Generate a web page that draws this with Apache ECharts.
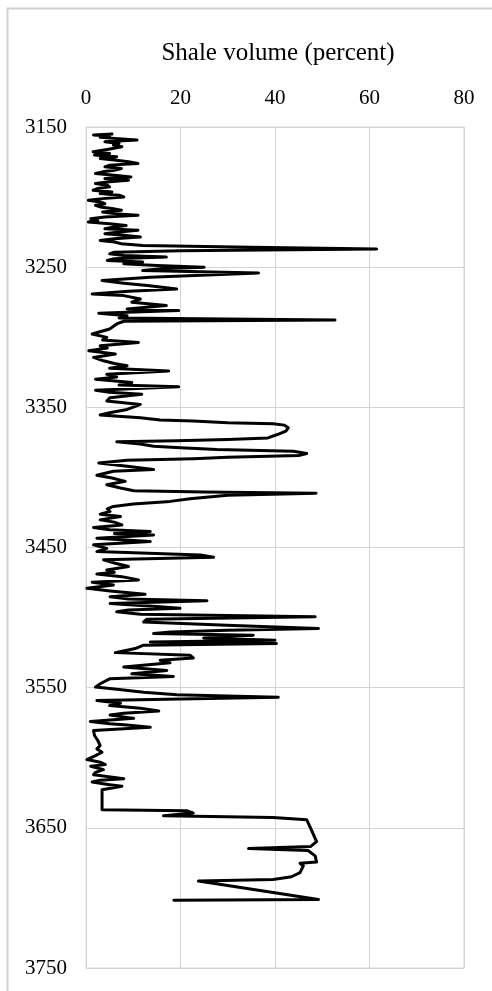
<!DOCTYPE html>
<html>
<head>
<meta charset="utf-8">
<script src="https://cdn.jsdelivr.net/npm/echarts@6/dist/echarts.min.js"></script>
<style>
html,body{margin:0;padding:0;background:#fff;}
#chart{width:492px;height:991px;}
</style>
</head>
<body>
<div id="chart"></div>
<script>
// Depth (m) of each log sample
var depth = [
3155.0,3155.7,3156.4,3157.4,3159.3,3160.5,3161.7,3162.9,3164.1,3166.0,3167.7,3168.9,3170.0,3171.2,3172.4,3173.6,3174.8,3176.0,3177.2,3178.4,
3179.6,3180.8,3182.0,3183.2,3184.4,3185.6,3186.8,3188.0,3189.1,3190.3,3191.5,3192.7,3193.9,3195.1,3196.3,3197.5,3198.7,3199.9,3201.1,3202.3,
3203.5,3204.7,3205.8,3207.0,3208.2,3209.4,3210.6,3211.8,3213.0,3214.2,3215.4,3216.6,3217.8,3219.0,3220.2,3221.4,3222.6,3223.7,3224.9,3226.1,
3227.3,3228.5,3229.7,3230.9,3232.1,3233.3,3234.5,3235.8,3237.0,3238.2,3239.3,3240.5,3241.7,3242.8,3244.0,3245.2,3246.4,3247.6,3248.8,3250.0,
3251.2,3252.4,3254.2,3257.2,3259.5,3261.4,3263.1,3265.5,3267.1,3269.1,3270.3,3272.7,3275.0,3277.4,3279.8,3281.0,3282.9,3284.6,3286.2,3287.7,
3288.6,3290.5,3294.1,3297.7,3300.1,3302.0,3303.7,3306.1,3307.7,3309.7,3312.0,3314.4,3316.8,3318.7,3320.4,3322.1,3324.0,3326.4,3328.3,3329.9,
3332.3,3334.0,3335.4,3337.8,3339.3,3340.7,3343.1,3345.5,3347.9,3349.8,3351.5,3353.9,3355.5,3357.4,3359.0,3359.8,3361.0,3361.7,3362.7,3364.6,
3367.0,3369.4,3371.8,3373.0,3373.8,3374.6,3376.1,3377.7,3378.9,3380.1,3381.3,3383.0,3384.4,3385.6,3386.6,3387.8,3389.7,3392.1,3394.4,3395.6,
3398.5,3400.4,3402.8,3405.2,3407.6,3409.5,3410.4,3411.3,3412.8,3415.2,3417.1,3419.0,3420.7,3422.4,3424.3,3426.2,3427.9,3430.3,3431.9,3433.9,
3435.7,3437.4,3438.6,3440.0,3441.0,3443.4,3445.7,3448.1,3450.6,3452.9,3455.3,3457.0,3458.8,3461.2,3463.6,3466.0,3467.7,3468.9,3470.8,3473.2,
3474.8,3476.7,3479.1,3481.0,3483.4,3485.1,3486.8,3488.0,3489.9,3492.3,3493.4,3494.6,3495.8,3497.7,3499.4,3501.1,3503.1,3505.4,3507.8,3509.0,
3510.2,3511.4,3512.6,3514.5,3516.2,3517.4,3518.5,3519.7,3522.1,3525.0,3526.9,3528.8,3530.5,3532.2,3535.3,3537.7,3540.1,3542.0,3543.6,3547.2,
3549.6,3551.3,3553.2,3555.1,3556.8,3559.1,3561.1,3562.8,3564.7,3566.6,3568.3,3569.5,3571.9,3574.1,3575.8,3576.7,3578.3,3580.5,3584.1,3587.7,
3591.3,3593.7,3596.1,3598.5,3601.3,3603.2,3604.9,3606.1,3607.3,3608.5,3610.4,3612.1,3614.9,3616.1,3617.3,3619.2,3620.4,3622.8,3630.0,3637.1,
3637.8,3639.5,3641.4,3642.6,3644.2,3651.4,3659.8,3663.4,3664.8,3666.2,3670.0,3674.4,3675.3,3677.2,3682.0,3684.9,3686.8,3688.0,3701.1,3701.6
];
// Shale volume (percent) at each depth
var shale = [
5.5,1.6,5.0,3.0,10.8,4.0,7.0,5.8,7.6,4.5,1.5,5.0,1.8,6.5,3.0,6.0,9.0,11.0,5.0,4.0,
7.5,6.0,3.5,2.0,6.0,9.5,4.0,9.0,5.0,2.0,4.5,5.0,2.5,1.5,5.5,3.0,7.0,8.0,3.5,0.5,
3.0,4.0,2.0,3.0,5.5,7.5,3.5,6.0,11.0,4.0,1.0,2.5,0.5,5.0,8.5,6.0,4.0,11.0,7.0,4.0,
8.0,11.5,6.0,3.0,6.0,7.5,12.0,35.0,61.5,20.0,6.0,5.0,8.0,17.0,6.0,4.5,12.0,8.0,15.0,25.0,
16.0,12.0,36.5,13.6,3.4,8.0,13.0,19.2,9.0,1.3,8.0,11.5,9.7,17.0,8.7,19.6,2.7,8.7,7.0,52.7,
8.0,6.5,5.0,1.3,4.4,3.5,11.1,3.0,4.5,0.6,6.2,1.6,3.7,6.0,8.7,5.0,17.5,4.4,6.5,2.0,
9.7,7.0,19.6,2.0,5.0,11.8,5.1,4.4,11.5,10.0,8.7,5.0,3.0,11.5,15.7,22.7,30.0,39.6,42.0,42.8,
42.3,40.5,38.5,30.0,19.2,6.5,11.5,14.3,20.0,27.7,43.9,46.7,45.0,30.0,22.7,8.7,2.7,8.7,14.3,5.8,
2.3,5.5,8.3,4.4,7.3,10.1,25.0,48.7,30.0,22.0,17.8,10.0,5.8,4.5,5.1,3.0,7.3,3.0,6.0,7.6,
1.6,5.0,13.6,6.0,14.3,2.3,13.6,1.6,4.4,2.3,24.2,27.0,3.7,6.2,9.0,4.4,6.0,2.3,7.6,11.1,
1.3,5.8,0.2,5.1,12.5,5.1,9.0,25.6,5.1,15.7,19.9,9.0,6.5,11.5,48.5,12.9,12.2,29.8,49.2,30.0,
18.0,14.3,35.4,24.9,40.0,13.6,40.3,12.2,10.4,6.2,22.0,22.7,15.7,17.8,8.0,17.1,9.7,18.5,5.1,3.0,
2.0,7.0,12.2,19.2,40.7,2.3,7.3,5.0,11.5,15.4,8.0,5.1,10.1,0.9,5.0,8.7,13.6,1.6,1.8,2.5,
3.0,2.3,3.4,2.0,0.2,3.0,4.1,1.0,0.9,3.7,2.0,1.6,8.0,3.0,1.3,5.0,7.6,3.4,3.4,3.4,
21.3,22.7,16.4,39.6,46.7,47.7,48.8,47.5,34.4,47.0,48.5,48.8,45.3,46.0,45.3,43.5,39.6,23.8,49.2,18.6
];
var xTicks = [0, 20, 40, 60, 80];
var yTicks = [3150, 3250, 3350, 3450, 3550, 3650, 3750];
var xTitle = 'Shale volume (percent)';

var pts = depth.map(function (d, i) { return [shale[i], d]; });
var FONT = '"Liberation Serif", "Times New Roman", serif';

var chart = echarts.init(document.getElementById('chart'), null, {renderer: 'canvas'});
chart.setOption({
  animation: false,
  backgroundColor: '#fff',
  grid: {left: 86, right: 28, top: 127, bottom: 23, show: true, borderColor: '#d4d4d4', borderWidth: 1},
  graphic: [
    {type: 'rect', shape: {x: 7.5, y: 8.5, width: 700, height: 1200}, style: {fill: 'none', stroke: '#d0d0d0', lineWidth: 2}, silent: true},
    {type: 'text', x: 278, y: 53, style: {text: xTitle, font: '25px ' + FONT, fill: '#000', textAlign: 'center', textVerticalAlign: 'middle'}}
  ],
  xAxis: {
    type: 'value', position: 'top', min: xTicks[0], max: xTicks[xTicks.length - 1], interval: 20,
    axisLine: {show: false}, axisTick: {show: false},
    splitLine: {show: true, lineStyle: {color: '#d4d4d4', width: 1}},
    axisLabel: {margin: 18, fontSize: 21, fontFamily: FONT, color: '#000', formatter: function (v) { return String(v); }}
  },
  yAxis: {
    type: 'value', inverse: true, min: yTicks[0], max: yTicks[yTicks.length - 1], interval: 100,
    axisLine: {show: false}, axisTick: {show: false},
    splitLine: {show: true, lineStyle: {color: '#d4d4d4', width: 1}},
    axisLabel: {margin: 19, fontSize: 21, fontFamily: FONT, color: '#000', formatter: function (v) { return String(v); }}
  },
  series: [{
    type: 'line', data: pts, showSymbol: false, symbol: 'none',
    lineStyle: {color: '#000', width: 3, join: 'round', cap: 'round'}
  }]
});
</script>
</body>
</html>
